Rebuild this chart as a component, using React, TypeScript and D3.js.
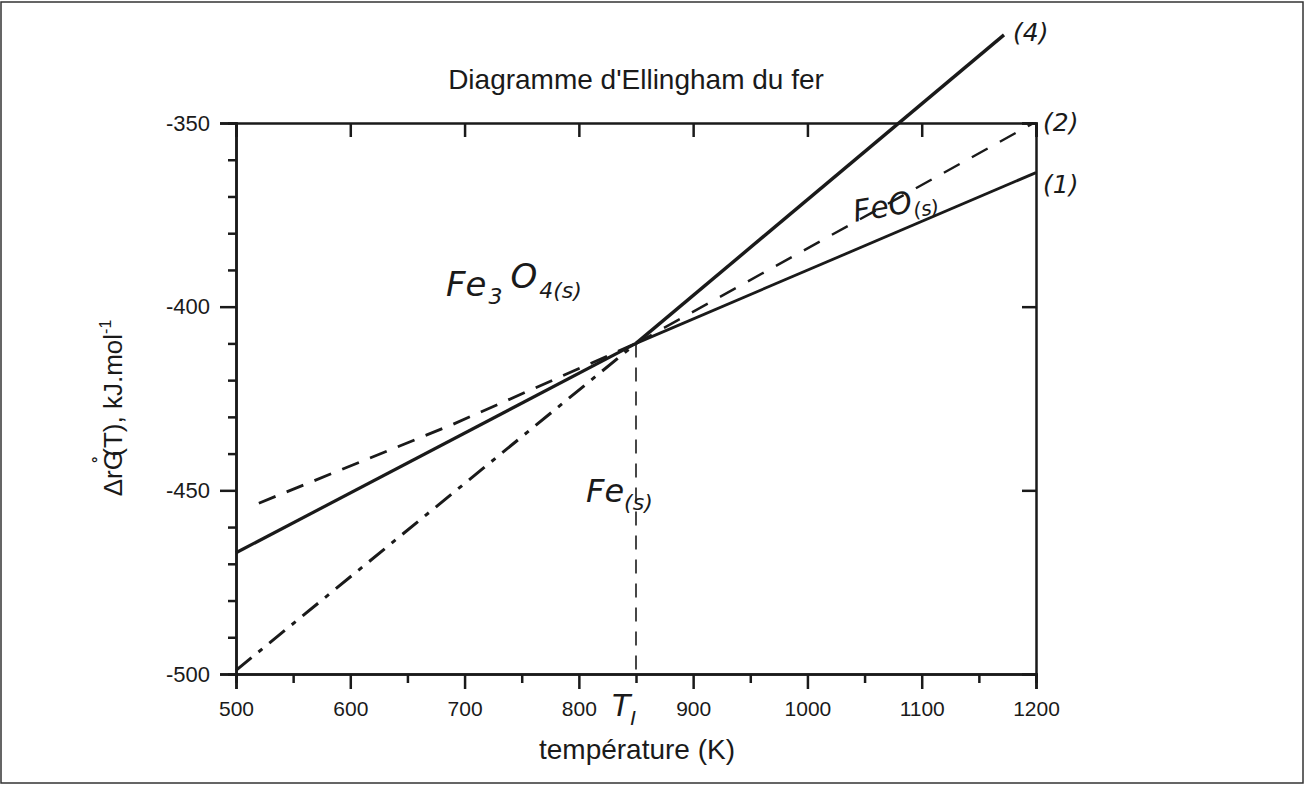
import React, { useEffect, useRef } from "react";
import * as d3 from "d3";

// Ellingham diagram for iron (T in K, ΔrG° in kJ/mol)
const T_I = 850;
const G_I = -410;

// each line: part drawn solid (stable) and part drawn broken (unstable)
const LINE1_STABLE = [[T_I, G_I], [1200, -363.5]];
const LINE1_UNSTABLE = [[520, -453.5], [690, -432], [T_I, G_I]];
const LINE2_STABLE = [[500, -467], [T_I, G_I]];
const LINE2_UNSTABLE = [[T_I, G_I], [1198, -350]];
const LINE4_STABLE = [[T_I, G_I], [1172, -326]];
const LINE4_UNSTABLE = [[500, -499], [T_I, G_I]];

const X_MAJOR = [500, 600, 700, 800, 900, 1000, 1100, 1200];
const X_MINOR = [550, 650, 750, 850, 950, 1050, 1150];
const Y_MAJOR = [-350, -400, -450, -500];
const Y_MINOR = d3.range(-490, -350, 10).filter(v => v % 50 !== 0);

export default function App() {
  const svgRef = useRef<SVGSVGElement>(null);

  useEffect(() => {
    const width = 1310, height = 787;
    const left = 236, right = 1036, top = 123, bottom = 674;
    const ink = "#1a1a1a";
    const font = "'Liberation Sans', Arial, sans-serif";

    const svg = d3.select(svgRef.current);
    svg.selectAll("*").remove();
    svg.attr("width", width).attr("height", height);

    svg.append("rect").attr("width", width).attr("height", height).attr("fill", "#fff");
    // scan frame
    svg.append("rect")
      .attr("x", 1).attr("y", 2).attr("width", 1302).attr("height", 781)
      .attr("fill", "none").attr("stroke", "#333").attr("stroke-width", 1.5);

    const x = d3.scaleLinear().domain([500, 1200]).range([left, right]);
    const y = d3.scaleLinear().domain([-500, -350]).range([bottom, top]);

    // Title
    svg.append("text")
      .attr("x", 636).attr("y", 89)
      .attr("text-anchor", "middle")
      .attr("fill", ink)
      .style("font-family", font).style("font-size", "28px")
      .text("Diagramme d'Ellingham du fer");

    const axisStyle = (size: number) => (g: any) => {
      g.select(".domain").attr("stroke", ink).attr("stroke-width", 2.5);
      g.selectAll(".tick line").attr("stroke", ink).attr("stroke-width", 2.5);
      g.selectAll(".tick text").attr("fill", ink).style("font-family", font).style("font-size", `${size}px`);
    };

    // bottom axis: major + minor outward
    svg.append("g")
      .attr("transform", `translate(0,${bottom})`)
      .call(d3.axisBottom(x).tickValues(X_MINOR).tickSize(9).tickFormat(() => ""))
      .call(axisStyle(21));
    svg.append("g")
      .attr("transform", `translate(0,${bottom})`)
      .call(d3.axisBottom(x).tickValues(X_MAJOR).tickSize(15).tickPadding(12).tickFormat(d => String(d)))
      .call(axisStyle(21));

    // top axis: major ticks inward
    svg.append("g")
      .attr("transform", `translate(0,${top})`)
      .call(d3.axisBottom(x).tickValues(X_MAJOR).tickSize(14).tickFormat(() => ""))
      .call(axisStyle(21));

    // left axis
    svg.append("g")
      .attr("transform", `translate(${left},0)`)
      .call(d3.axisLeft(y).tickValues(Y_MINOR).tickSize(8).tickFormat(() => ""))
      .call(axisStyle(22));
    svg.append("g")
      .attr("transform", `translate(${left},0)`)
      .call(d3.axisLeft(y).tickValues(Y_MAJOR).tickSize(16).tickPadding(10).tickFormat(d => String(d)))
      .call(axisStyle(22));

    // right axis: major ticks inward
    svg.append("g")
      .attr("transform", `translate(${right},0)`)
      .call(d3.axisLeft(y).tickValues(Y_MAJOR).tickSize(14).tickFormat(() => ""))
      .call(axisStyle(21));

    // axis labels
    svg.append("text")
      .attr("x", 637).attr("y", 759)
      .attr("text-anchor", "middle")
      .attr("fill", ink)
      .style("font-family", font).style("font-size", "28px")
      .text("température (K)");

    const yl = svg.append("text")
      .attr("transform", "translate(122,408) rotate(-90)")
      .attr("text-anchor", "middle")
      .attr("fill", ink)
      .style("font-family", font).style("font-size", "26px");
    yl.append("tspan").text("ΔrG");
    yl.append("tspan").attr("dx", -13).attr("dy", -18).style("font-size", "16px").style("font-weight", 700).text("°");
    yl.append("tspan").attr("dx", 0).attr("dy", 18).text("(T), kJ.mol");
    yl.append("tspan").attr("dy", -11).style("font-size", "16px").text("-1");

    const line = d3.line<number[]>().x(d => x(d[0])).y(d => y(d[1]));

    const draw = (data: number[][], w: number, dash: string | null) => {
      const p = svg.append("path")
        .datum(data)
        .attr("d", line)
        .attr("fill", "none")
        .attr("stroke", ink)
        .attr("stroke-width", w)
        .attr("stroke-linecap", "butt");
      if (dash) p.attr("stroke-dasharray", dash);
    };

    // vertical dashed line at T_I
    svg.append("line")
      .attr("x1", x(T_I)).attr("x2", x(T_I))
      .attr("y1", y(G_I)).attr("y2", bottom)
      .attr("stroke", ink).attr("stroke-width", 1.6)
      .attr("stroke-dasharray", "14,10");

    draw(LINE1_UNSTABLE, 2.8, "18,12");
    draw(LINE1_STABLE, 2.8, null);
    draw(LINE2_STABLE, 3.2, null);
    draw(LINE2_UNSTABLE, 2.4, "18,14");
    draw(LINE4_UNSTABLE, 3, "20,9,5,9");
    draw(LINE4_STABLE, 3.4, null);

    // handwritten annotations
    const hand = (tx: number, ty: number, rot: number, size: number) =>
      svg.append("text")
        .attr("transform", `translate(${tx},${ty}) rotate(${rot})`)
        .attr("fill", ink)
        .style("font-family", "'DejaVu Sans', sans-serif")
        .style("font-style", "italic")
        .style("font-size", `${size}px`);

    const f3 = hand(446, 296, 0, 34);
    f3.append("tspan").text("Fe");
    f3.append("tspan").attr("dx", 2).attr("dy", 8).style("font-size", "22px").text("3");
    f3.append("tspan").attr("dx", 8).attr("dy", -16).text("O");
    f3.append("tspan").attr("dx", 2).attr("dy", 10).style("font-size", "22px").text("4(s)");

    const fe = hand(586, 502, 0, 32);
    fe.append("tspan").text("Fe");
    fe.append("tspan").attr("dy", 8).style("font-size", "22px").text("(s)");

    const feo = hand(855, 222, -10, 30);
    feo.append("tspan").text("FeO");
    feo.append("tspan").attr("dy", 6).style("font-size", "20px").text("(s)");

    hand(1043, 193, 0, 25).text("(1)");
    hand(1043, 131, 0, 25).text("(2)");
    hand(1013, 41, 0, 25).text("(4)");

    const ti = hand(612, 716, 0, 30);
    ti.append("tspan").text("T");
    ti.append("tspan").attr("dy", 9).style("font-size", "20px").text("I");
  }, []);

  return (
    <div style={{ position: "absolute", left: 0, top: 0 }}>
      <svg ref={svgRef} />
    </div>
  );
}
